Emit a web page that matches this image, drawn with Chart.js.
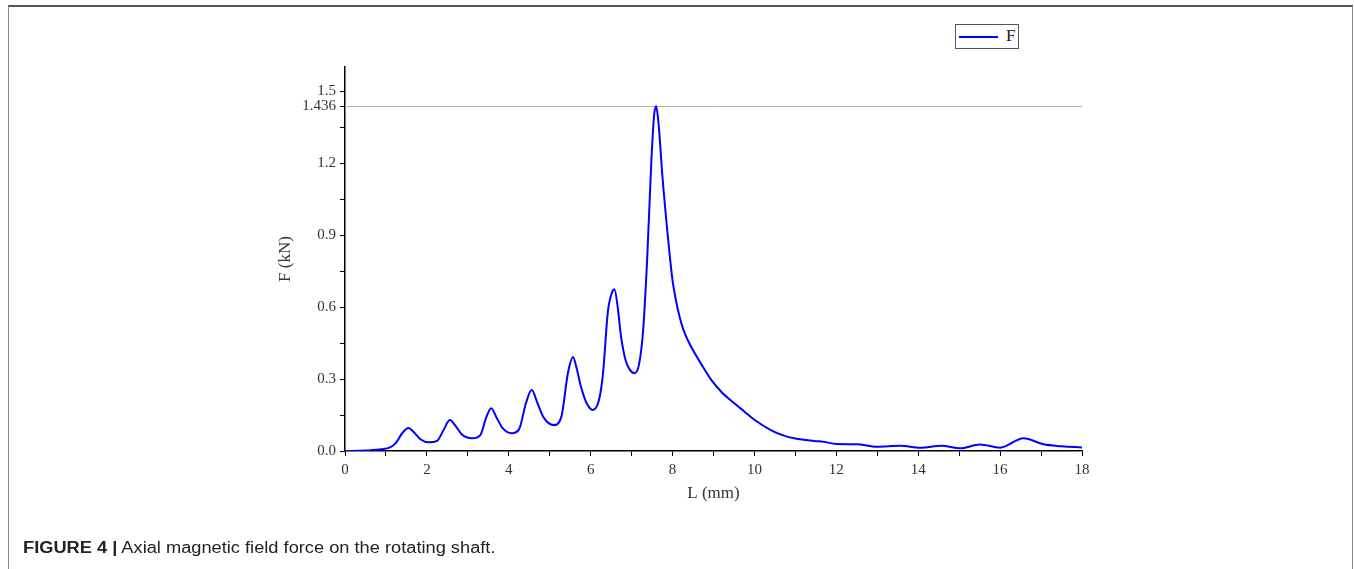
<!DOCTYPE html>
<html>
<head>
<meta charset="utf-8">
<script src="https://cdn.jsdelivr.net/npm/chart.js@4"></script>
<style>
  html, body { margin:0; padding:0; background:#fff; }
  #wrap { position:relative; width:1354px; height:569px; overflow:hidden; background:#fff; }
  #c { position:absolute; left:0; top:0; }
  .frameTop { position:absolute; left:8px; top:5px; width:1345px; height:2px; background:#555; }
  .frameL { position:absolute; left:8px; top:6px; width:1px; height:563px; background:#888; }
  .frameR { position:absolute; left:1352px; top:6px; width:1px; height:563px; background:#888; }
  #legend { position:absolute; left:955px; top:24px; width:62px; height:23px; border:1px solid #555; background:#fff; }
  #legend .ln { position:absolute; left:3px; top:11px; width:39px; height:2px; background:#0000ff; }
  #legend .tx { position:absolute; left:50px; top:1px; font:17px "Liberation Serif", serif; color:#222; }
  #caption { position:absolute; left:23px; top:538px; font:16px "Liberation Sans", Arial, sans-serif; color:#222; white-space:nowrap; line-height:20px; transform:scaleX(1.14); transform-origin:0 0; }
  #caption b { font-weight:bold; }
</style>
</head>
<body>
<div id="wrap">
  <canvas id="c" width="1354" height="569"></canvas>
  <div class="frameTop"></div><div class="frameL"></div><div class="frameR"></div>
  <div id="legend"><div class="ln"></div><div class="tx">F</div></div>
  <div id="caption"><b>FIGURE 4 |</b> Axial magnetic field force on the rotating shaft.</div>
</div>
<script>
// Data
const L_mm = [0,0.5,0.9,1.1,1.25,1.4,1.55,1.7,1.85,2.05,2.25,2.4,2.56,2.7,2.85,3.1,3.3,3.45,3.57,3.7,3.85,4.07,4.25,4.42,4.56,4.7,4.85,5.1,5.28,5.45,5.57,5.65,5.76,5.9,6.05,6.2,6.3,6.42,6.52,6.58,6.66,6.74,6.85,6.95,7.07,7.18,7.28,7.38,7.48,7.55,7.6,7.66,7.75,7.87,7.94,8.0,8.08,8.17,8.26,8.4,8.55,8.7,8.95,9.2,9.5,9.75,10.0,10.4,10.7,11.0,11.45,11.7,12.0,12.5,12.99,13.56,14.05,14.57,15.02,15.51,16.0,16.57,17.06,17.5,18];
const F_kN = [0,0.002,0.007,0.015,0.035,0.075,0.096,0.075,0.048,0.036,0.042,0.085,0.129,0.105,0.07,0.053,0.065,0.14,0.178,0.14,0.095,0.074,0.09,0.2,0.254,0.2,0.14,0.108,0.14,0.33,0.392,0.35,0.27,0.2,0.171,0.21,0.32,0.58,0.66,0.674,0.6,0.48,0.38,0.34,0.324,0.36,0.5,0.8,1.2,1.40,1.436,1.36,1.15,0.92,0.8,0.71,0.63,0.56,0.508,0.452,0.405,0.362,0.295,0.245,0.2,0.165,0.13,0.087,0.065,0.052,0.042,0.038,0.029,0.028,0.018,0.022,0.014,0.022,0.011,0.027,0.014,0.053,0.028,0.02,0.015];
const xTickValues = [0,1,2,3,4,5,6,7,8,9,10,11,12,13,14,15,16,17,18];
const yTickValues = [0,0.15,0.3,0.45,0.6,0.75,0.9,1.05,1.2,1.35,1.436,1.5];
const peakValue = 1.436;
const seriesName = 'F';
const xTitle = 'L (mm)';
const yTitle = 'F (kN)';

const points = L_mm.map((x, i) => ({x: x, y: F_kN[i]}));

const peakLine = {
  id: 'peakLine',
  beforeDatasetsDraw(chart) {
    const {ctx, chartArea, scales} = chart;
    const y = Math.round(scales.y.getPixelForValue(peakValue)) + 0.5;
    ctx.save();
    ctx.strokeStyle = '#b0b0b0';
    ctx.lineWidth = 1;
    ctx.beginPath();
    ctx.moveTo(chartArea.left, y);
    ctx.lineTo(chartArea.right, y);
    ctx.stroke();
    ctx.restore();
  }
};

const tickFont = {family: '"Liberation Serif", serif', size: 15};

new Chart(document.getElementById('c'), {
  type: 'line',
  data: {
    datasets: [{
      label: seriesName,
      data: points,
      borderColor: '#0000ff',
      borderWidth: 2,
      pointRadius: 0,
      fill: false,
      cubicInterpolationMode: 'monotone'
    }]
  },
  options: {
    responsive: false,
    devicePixelRatio: 1,
    animation: false,
    layout: { padding: { left: 275, top: 67, right: 272, bottom: 65.4 } },
    plugins: { legend: { display: false }, tooltip: { enabled: false } },
    scales: {
      x: {
        type: 'linear',
        min: 0, max: 18,
        afterBuildTicks: s => { s.ticks = xTickValues.map(v => ({value: v})); },
        afterFit: s => { s.height = 52.6; },
        ticks: {
          autoSkip: false, maxRotation: 0, padding: 5,
          color: '#333', font: tickFont,
          callback: v => (v % 2 === 0 ? String(v) : '')
        },
        grid: { display: true, drawOnChartArea: false, drawTicks: true, tickLength: 5, color: '#000' },
        border: { display: true, color: '#000', width: 1.5 },
        title: { display: true, text: xTitle, color: '#333', font: {family: '"Liberation Serif", serif', size: 17}, padding: 0 }
      },
      y: {
        type: 'linear',
        min: 0, max: 1.6,
        afterBuildTicks: s => { s.ticks = yTickValues.map(v => ({value: v})); },
        afterFit: s => { s.width = 70; },
        ticks: {
          autoSkip: false, padding: 4,
          color: '#333', font: tickFont,
          callback: v => {
            if (Math.abs(v - peakValue) < 1e-6) return '1.436';
            const k = Math.round(v / 0.3);
            return Math.abs(k * 0.3 - v) < 1e-6 ? v.toFixed(1) : '';
          }
        },
        grid: { display: true, drawOnChartArea: false, drawTicks: true, tickLength: 5, color: '#000' },
        border: { display: true, color: '#000', width: 1.5 },
        title: { display: true, text: yTitle, color: '#333', font: {family: '"Liberation Serif", serif', size: 17}, padding: 0 }
      }
    }
  },
  plugins: [peakLine]
});
</script>
</body>
</html>
